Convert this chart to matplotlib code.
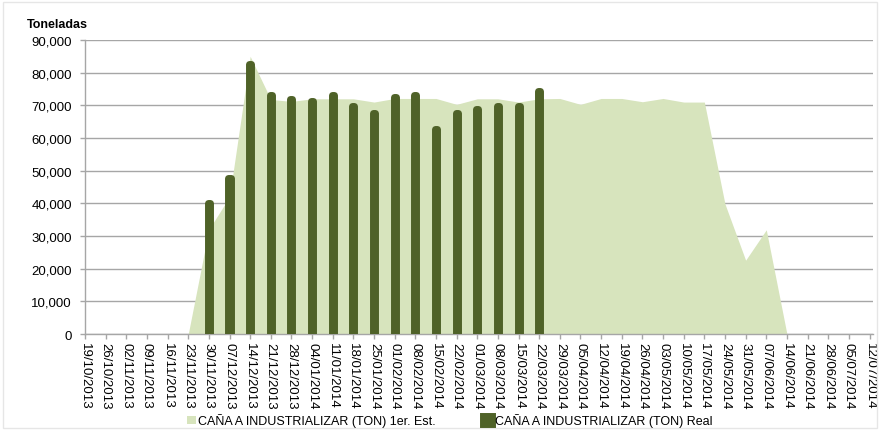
import numpy as np
import matplotlib
matplotlib.use("Agg")
import matplotlib.pyplot as plt
from matplotlib.patches import Rectangle

plt.rcParams['font.family'] = ['Liberation Sans', 'DejaVu Sans']

fechas = ['19/10/2013', '26/10/2013', '02/11/2013', '09/11/2013', '16/11/2013',
          '23/11/2013', '30/11/2013', '07/12/2013', '14/12/2013', '21/12/2013',
          '28/12/2013', '04/01/2014', '11/01/2014', '18/01/2014', '25/01/2014',
          '01/02/2014', '08/02/2014', '15/02/2014', '22/02/2014', '01/03/2014',
          '08/03/2014', '15/03/2014', '22/03/2014', '29/03/2014', '05/04/2014',
          '12/04/2014', '19/04/2014', '26/04/2014', '03/05/2014', '10/05/2014',
          '17/05/2014', '24/05/2014', '31/05/2014', '07/06/2014', '14/06/2014',
          '21/06/2014', '28/06/2014', '05/07/2014', '12/07/2014']

# 1er. estimado (area)
estimado = [0, 0, 0, 0, 0,
            0, 32000, 42000, 85000, 71800,
            71200, 72000, 72000, 72000, 71000,
            72100, 72100, 72100, 70300, 72000,
            72000, 71000, 72000, 72100, 70300,
            72100, 72100, 71100, 72100, 71000,
            71000, 39800, 22600, 31900, 0,
            0, 0, 0, 0]

# real (barras), 30/11/2013 - 22/03/2014
real_fechas = fechas[6:23]
real = [40000, 47700, 82500, 73300, 71800, 71300, 73100, 69800, 67700,
        72600, 73100, 62700, 67600, 69000, 69800, 69700, 74500]

lbl_est = 'CAÑA A INDUSTRIALIZAR (TON) 1er. Est.'
lbl_real = 'CAÑA A INDUSTRIALIZAR (TON) Real'

c_area = '#d7e4bd'
c_bar = '#4f6228'
c_grid = '#a6a6a6'

fig = plt.figure(figsize=(8.8, 4.31), dpi=100)
ax = fig.add_axes([0.0966, 0.2227, 0.895, 0.6822])

x = np.arange(len(fechas))
xr = np.array([fechas.index(f) for f in real_fechas])

ax.fill_between(x, estimado, 0, color=c_area, lw=0, zorder=2, label=lbl_est)
ax.bar(xr, real, width=0.1, color=c_bar, edgecolor=c_bar, linewidth=5,
       joinstyle='round', zorder=3, label=lbl_real)

ax.set_xlim(0, 38.15)
ax.set_ylim(0, 90000)
ax.set_yticks(np.arange(0, 90001, 10000))
ax.set_yticklabels(['{:,}'.format(v) for v in range(0, 90001, 10000)], fontsize=9.5)
ax.set_xticks(x)
ax.set_xticklabels(fechas, rotation=270, fontsize=9.5)

ax.grid(axis='y', color=c_grid, lw=1)
ax.set_axisbelow(True)
for s in ['top', 'right']:
    ax.spines[s].set_visible(False)
for s in ['left', 'bottom']:
    ax.spines[s].set_color(c_grid)
    ax.spines[s].set_linewidth(1)
ax.tick_params(axis='both', colors=c_grid, length=3.5, width=1, labelcolor='black')
ax.tick_params(axis='x', pad=2)
ax.tick_params(axis='y', pad=6)

fig.text(0.03, 0.935, 'Toneladas', fontsize=9, fontweight='bold')

fig.legend(loc='center', bbox_to_anchor=(0.511, 0.022), ncol=2, frameon=False,
           fontsize=9, handlelength=0.7, handleheight=0.7, handletextpad=0.2,
           columnspacing=3.8, borderpad=0.1)

fig.patches.append(Rectangle((0.003, 0.004), 0.994, 0.99, transform=fig.transFigure,
                             fill=False, edgecolor='#e6e6e6', lw=1))

fig.savefig('out.png', dpi=100)
